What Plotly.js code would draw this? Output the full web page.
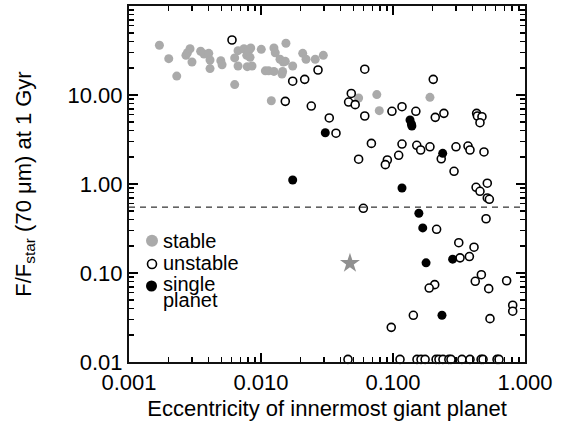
<!DOCTYPE html>
<html>
<head>
<meta charset="utf-8">
<script src="https://cdn.plot.ly/plotly-3.0.1.min.js"></script>
<style>html,body{margin:0;padding:0;background:#fff;}#chart{width:573px;height:428px;}</style>
</head>
<body>
<div id="chart"></div>
<script>
// ---- data ----
var stableX = [0.00170,0.00200,0.00230,0.00270,0.00277,0.00290,0.00300,0.00349,0.00370,0.00402,0.00411,0.00411,0.00496,0.00507,0.00632,0.00632,0.00670,0.00670,0.00743,0.00807,0.00836,0.00780,0.00826,0.00787,0.00855,0.01005,0.01253,0.01282,0.01079,0.01142,0.01253,0.01393,0.01476,0.01528,0.01458,0.01442,0.01545,0.01738,0.02070,0.02193,0.02576,0.02965,0.01197,0.0549,0.0754,0.0787,0.1905];
var stableY = [36.2,25.6,16.3,27.9,29.8,33.1,23.5,31.0,28.9,29.4,24.7,19.8,24.3,21.9,26.1,13.1,31.5,21.2,33.1,31.5,33.7,27.9,26.5,20.8,21.2,32.6,33.7,29.8,18.7,18.7,18.4,25.2,23.5,23.9,18.4,17.2,38.1,21.2,29.4,25.2,25.2,27.9,8.63,9.25,10.1,6.67,9.42];

var unstableX = [0.00603,0.01738,0.02143,0.02704,0.0611,0.01528,0.02404,0.0329,0.0483,0.0461,0.0517,0.0611,0.0982,0.117,0.2018,0.149,0.209,0.243,0.430,0.436,0.472,0.456,0.0370,0.0686,0.117,0.0549,0.0906,0.0875,0.1104,0.1514,0.162,0.1905,0.232,0.300,0.370,0.383,0.489,0.290,0.518,0.426,0.456,0.518,0.537,0.0596,0.507,0.214,0.315,0.411,0.322,0.379,0.207,0.188,0.420,0.467,0.531,0.726,0.1426,0.543,0.807,0.807,0.0970,
  0.0456,0.113,0.152,0.163,0.175,0.212,0.223,0.239,0.265,0.275,0.333,0.383,0.465,0.481,0.614,0.635];
var unstableY = [41.5,14.3,15.0,19.1,19.5,8.49,7.51,5.52,10.4,8.34,7.79,5.81,6.56,7.39,15.0,6.56,5.61,6.22,6.22,5.81,5.70,4.88,3.72,2.86,2.81,1.90,1.86,1.65,2.10,2.72,2.41,2.62,1.92,2.62,2.67,2.41,2.29,1.39,1.02,0.918,0.828,0.697,0.673,0.533,0.407,0.310,0.219,0.195,0.148,0.153,0.0740,0.0678,0.0807,0.0957,0.0667,0.0818,0.0335,0.0307,0.0434,0.0372,0.0245,
  0.0107,0.0107,0.0107,0.0107,0.0107,0.0107,0.0107,0.0107,0.0107,0.0107,0.0107,0.0107,0.0107,0.0107,0.0107,0.0107];

var singleX = [0.0307,0.01738,0.117,0.1346,0.1378,0.139,0.238,0.157,0.168,0.178,0.283,0.235];
var singleY = [3.77,1.11,0.902,5.24,4.72,4.49,2.21,0.469,0.321,0.130,0.143,0.0335];

var starX = [0.0472];
var starY = [0.1285];

var thresholdY = 0.55;

var xTickVals = [0.001,0.01,0.1,1];
var xTickText = ["0.001","0.010","0.100","1.000"];
var yTickVals = [100,10,1,0.1,0.01];
var yTickText = ["100.00","10.00","1.00","0.10","0.01"];

var legendLabels = ["stable","unstable","single","planet"];

// minor tick positions (2..9 within each decade) for the axes
function minorTicks(decades){
  var out=[];
  decades.forEach(function(d){ for(var k=2;k<=9;k++){ out.push(+(k*d).toPrecision(3)); } });
  return out;
}
var xMinor = minorTicks([0.001,0.01,0.1]);
var yMinor = minorTicks([0.01,0.1,1,10]);

// ---- traces ----
var traces = [
  {x: stableX, y: stableY, type:'scatter', mode:'markers', cliponaxis:false,
   marker:{size:9, color:'#aaaaaa', line:{width:0}}},
  {x: unstableX, y: unstableY, type:'scatter', mode:'markers', cliponaxis:false,
   marker:{size:8, color:'#ffffff', line:{width:1.6, color:'#000000'}}},
  {x: singleX, y: singleY, type:'scatter', mode:'markers', cliponaxis:false,
   marker:{size:9, color:'#000000', line:{width:0}}},
  // the star sits on the overlay axes (identical ranges) that carry the minor ticks
  {x: starX, y: starY, type:'scatter', mode:'markers', cliponaxis:false, xaxis:'x2', yaxis:'y2',
   marker:{size:15, symbol:'star', color:'#909090', line:{width:0}}}
];

// plot area pixel helpers for legend placement (paper coords)
var L=129, R=525, T=6, B=362;
function px(xp){return (xp-L)/(R-L);}
function py(yp){return (B-yp)/(B-T);}

var fam = '"Liberation Sans", Arial, sans-serif';
var tickLine = '#000';

var layout = {
  width:573, height:428,
  margin:{l:129, r:48, t:6, b:66, pad:0},
  paper_bgcolor:'#fff', plot_bgcolor:'#fff',
  showlegend:false,
  font: {family:fam, color:'#000', size:22},
  xaxis:{
    type:'log', range:[-3,0], showgrid:false, zeroline:false,
    showline:true, linecolor:'#111', linewidth:2, mirror:'allticks',
    ticks:'inside', ticklen:9, tickwidth:1.8, tickcolor:tickLine,
    tickvals:xTickVals, ticktext:xTickText,
    tickfont:{size:22, family:fam, color:'#000'},
    title:{text:'Eccentricity of innermost giant planet', font:{size:22, family:fam, color:'#000'}, standoff:6},
    automargin:false
  },
  yaxis:{
    type:'log', range:[-2,2], showgrid:false, zeroline:false,
    showline:true, linecolor:'#111', linewidth:2, mirror:'allticks',
    ticks:'inside', ticklen:9, tickwidth:1.8, tickcolor:tickLine,
    tickvals:yTickVals, ticktext:yTickText,
    tickfont:{size:22, family:fam, color:'#000'},
    title:{text:'F/F<sub>star</sub> (70 μm) at 1 Gyr', font:{size:22, family:fam, color:'#000'}, standoff:30},
    automargin:false
  },
  xaxis2:{
    type:'log', range:[-3,0], overlaying:'x', anchor:'y2', side:'bottom',
    showgrid:false, zeroline:false, showline:false, mirror:'allticks',
    ticks:'inside', ticklen:5, tickwidth:1.5, tickcolor:tickLine,
    tickvals:xMinor, showticklabels:false, automargin:false
  },
  yaxis2:{
    type:'log', range:[-2,2], overlaying:'y', anchor:'x2', side:'left',
    showgrid:false, zeroline:false, showline:false, mirror:'allticks',
    ticks:'inside', ticklen:5, tickwidth:1.5, tickcolor:tickLine,
    tickvals:yMinor, showticklabels:false, automargin:false
  },
  shapes:[
    {type:'line', xref:'paper', x0:0, x1:1, yref:'y', y0:thresholdY, y1:thresholdY,
     line:{color:'#000', width:1, dash:'6px,5px'}},
    {type:'circle', xref:'paper', yref:'paper', x0:px(146), x1:px(158), y0:py(246.7), y1:py(234.7),
     fillcolor:'#aaaaaa', line:{width:0}},
    {type:'circle', xref:'paper', yref:'paper', x0:px(147.5), x1:px(156.5), y0:py(268.5), y1:py(259.5),
     fillcolor:'#ffffff', line:{width:1.6, color:'#000'}},
    {type:'circle', xref:'paper', yref:'paper', x0:px(146), x1:px(157), y0:py(291.5), y1:py(280.5),
     fillcolor:'#000000', line:{width:0}}
  ],
  annotations:[
    {xref:'paper', yref:'paper', x:px(161), y:py(241), xanchor:'left', yanchor:'middle', showarrow:false,
     text:legendLabels[0], font:{size:20, family:fam, color:'#000'}},
    {xref:'paper', yref:'paper', x:px(161), y:py(263), xanchor:'left', yanchor:'middle', showarrow:false,
     text:legendLabels[1], font:{size:20, family:fam, color:'#000'}},
    {xref:'paper', yref:'paper', x:px(161), y:py(284), xanchor:'left', yanchor:'middle', showarrow:false,
     text:legendLabels[2], font:{size:20, family:fam, color:'#000'}},
    {xref:'paper', yref:'paper', x:px(161), y:py(300), xanchor:'left', yanchor:'middle', showarrow:false,
     text:legendLabels[3], font:{size:20, family:fam, color:'#000'}}
  ]
};

Plotly.newPlot('chart', traces, layout, {displayModeBar:false, staticPlot:true});
</script>
</body>
</html>
